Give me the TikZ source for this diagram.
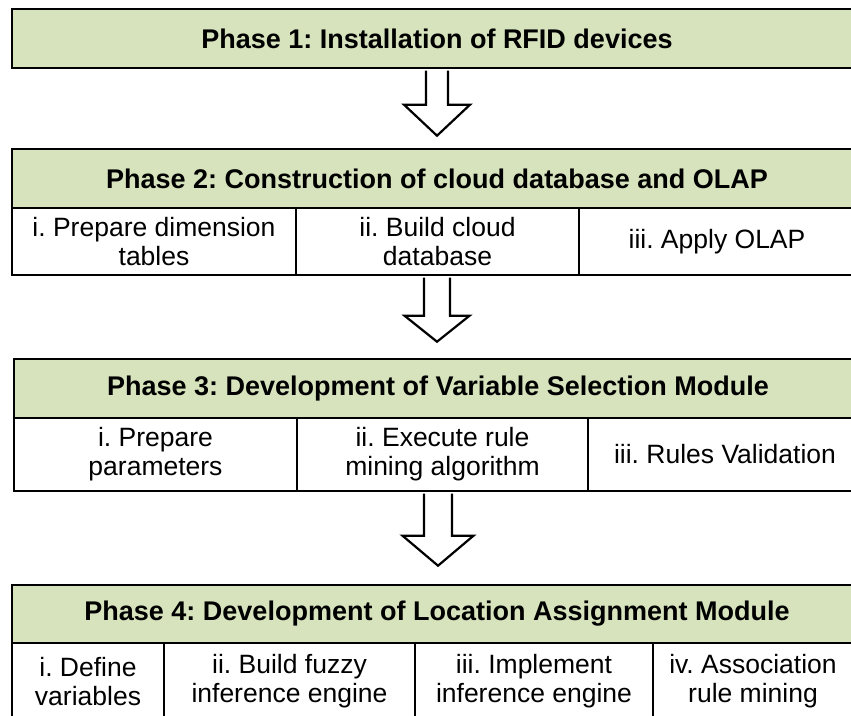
\documentclass[tikz,border=0pt]{standalone}
\usepackage{fontspec}
\setmainfont{Liberation Sans}
\usetikzlibrary{calc}
\frenchspacing
\definecolor{phasegreen}{RGB}{214,227,188}
\tikzset{
  phase/.style={draw=black, fill=phasegreen, line width=2.6pt, inner sep=0pt,
    font=\fontsize{27}{31}\selectfont\bfseries},
  cell/.style={draw=black, fill=white, line width=2.6pt, inner sep=0pt, align=center,
    font=\fontsize{26.5}{29}\selectfont},
  blockarrow/.style={draw=black, fill=white, line width=2.2pt, line join=miter},
}
% hollow block arrow: #1 start (top), #2 tip, #3 shaft half width,
% #4 head half width, #5 head length
\newcommand{\blockarrow}[5]{%
  \draw[blockarrow] ($(#1)+(-#3,1.3)$) -- ($(#2)+(-#3,-#5)$) -- ($(#2)+(-#4,-#5)$)
    -- (#2) -- ($(#2)+(#4,-#5)$) -- ($(#2)+(#3,-#5)$) -- ($(#1)+(#3,1.3)$);
}
\begin{document}
\begin{tikzpicture}[x=1pt,y=-1pt]
\useasboundingbox (0,0) rectangle (851,715);
\clip (0,0) rectangle (851,715);

% Phase 1
\node[phase, minimum width=850pt, minimum height=59pt] (p1) at (437,38.5)
  {Phase 1: Installation of RFID devices};

% Phase 2
\node[phase, minimum width=850pt, minimum height=59pt] (p2) at (437,178.5)
  {Phase 2: Construction of cloud database and OLAP};
\node[cell, minimum width=284pt, minimum height=67pt] (c21) at (154,241.5)
  {i. Prepare dimension\\tables};
\node[cell, minimum width=283pt, minimum height=67pt] (c22) at (437.5,241.5)
  {ii. Build cloud\\database};
\node[cell, minimum width=276pt, minimum height=67pt] (c23) at (717,241.5)
  {iii. Apply OLAP};

% Phase 3
\node[phase, minimum width=848pt, minimum height=59pt] (p3) at (438,388.5)
  {Phase 3: Development of Variable Selection Module};
\node[cell, minimum width=283pt, minimum height=73pt] (c31) at (155.5,454.5)
  {i. Prepare\\parameters};
\node[cell, minimum width=291pt, minimum height=73pt] (c32) at (442.5,454.5)
  {ii. Execute rule\\mining algorithm};
\node[cell, minimum width=274pt, minimum height=73pt] (c33) at (725,454.5)
  {iii. Rules Validation};

% Phase 4
\node[phase, minimum width=850pt, minimum height=58pt] (p4) at (437,614)
  {Phase 4: Development of Location Assignment Module};
\node[cell, minimum width=152pt, minimum height=77pt] (c41) at (88,681.5)
  {i. Define\\variables};
\node[cell, minimum width=251pt, minimum height=77pt] (c42) at (289.5,681.5)
  {ii. Build fuzzy\\inference engine};
\node[cell, minimum width=238pt, minimum height=77pt] (c43) at (534,681.5)
  {iii. Implement\\inference engine};
\node[cell, minimum width=200pt, minimum height=77pt] (c44) at (753,681.5)
  {iv. Association\\rule mining};

% arrows between the phases
\coordinate (a1s) at (p1.south);
\coordinate (a1t) at ($(a1s |- p2.north)+(0,-12)$);
\blockarrow{a1s}{a1t}{11}{33}{31}

\coordinate (a2s) at (p2.center |- c22.south);
\coordinate (a2t) at ($(a2s |- p3.north)+(0,-16)$);
\blockarrow{a2s}{a2t}{13}{32.5}{26}

\coordinate (a3s) at (p3.center |- c32.south);
\coordinate (a3t) at ($(a3s |- p4.north)+(0,-18)$);
\blockarrow{a3s}{a3t}{14}{35.5}{30}
\end{tikzpicture}
\end{document}
